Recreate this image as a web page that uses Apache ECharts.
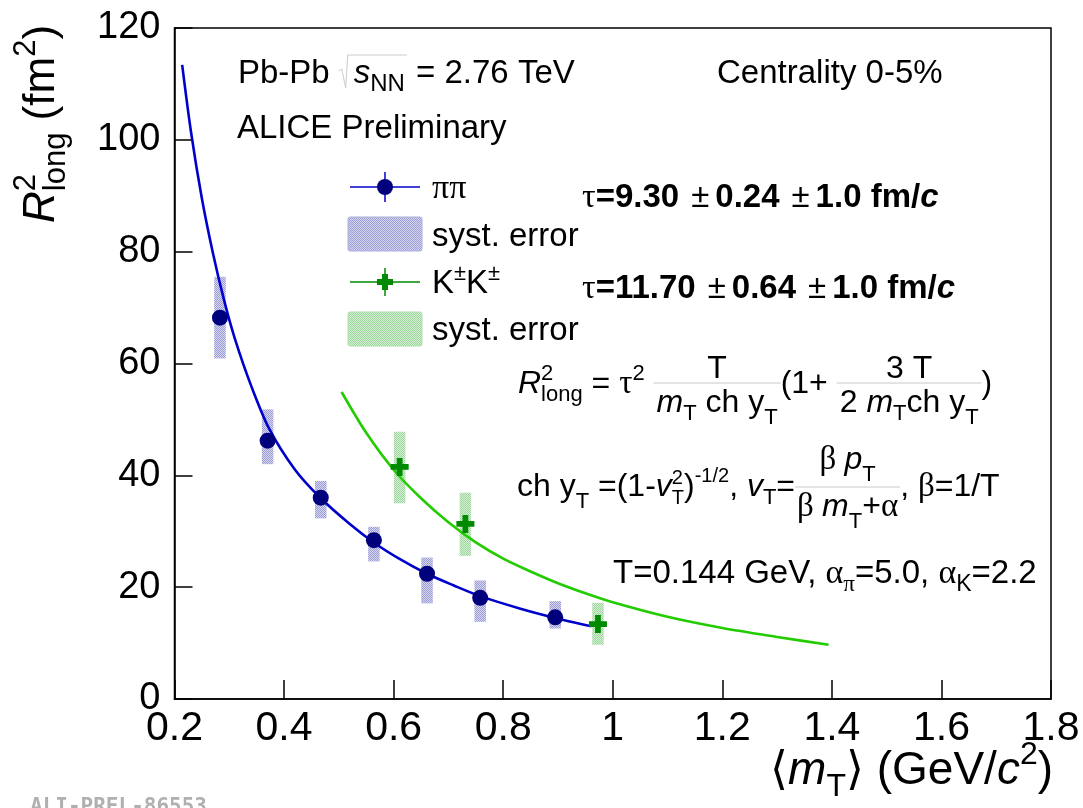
<!DOCTYPE html>
<html>
<head>
<meta charset="utf-8">
<script src="https://cdn.jsdelivr.net/npm/echarts@6/dist/echarts.min.js"></script>
<style>
  html, body { margin: 0; padding: 0; background: #ffffff; }
  #chart { width: 1083px; height: 808px; }
</style>
</head>
<body>
<div id="chart"></div>
<script>
// ---- data: longitudinal HBT radius squared vs <mT>, Pb-Pb 0-5% ----
const pionMt        = [0.283, 0.370, 0.467, 0.564, 0.661, 0.758, 0.895];
const pionR2        = [68.2, 46.2, 36.0, 28.4, 22.4, 18.1, 14.6];
const pionSystLow   = [60.9, 42.0, 32.3, 24.6, 17.1, 13.8, 12.6];
const pionSystHigh  = [75.5, 51.8, 39.0, 30.8, 25.3, 21.2, 17.5];

const kaonMt        = [0.611, 0.731, 0.973];
const kaonR2        = [41.5, 31.3, 13.4];
const kaonSystLow   = [35.0, 25.6, 9.7];
const kaonSystHigh  = [47.8, 36.9, 17.2];

// hydro-inspired fit curves (pions: tau = 9.30 fm/c, kaons: tau = 11.70 fm/c)
const pionFitMt = [0.214, 0.23, 0.25, 0.27, 0.29, 0.31, 0.34, 0.373, 0.42, 0.467, 0.52, 0.565, 0.61, 0.661, 0.71, 0.758, 0.83, 0.895, 0.961];
const pionFitR2 = [113.4, 101.5, 89.5, 79.8, 71.5, 64.5, 56.0, 48.3, 41.0, 35.9, 31.3, 27.9, 25.1, 22.4, 20.3, 18.4, 16.2, 14.5, 13.0];
const kaonFitMt = [0.505, 0.55, 0.6, 0.65, 0.7, 0.75, 0.8, 0.85, 0.9, 0.95, 1.0, 1.1, 1.2, 1.3, 1.394];
const kaonFitR2 = [54.9, 47.6, 41.0, 35.9, 31.6, 28.0, 25.1, 22.8, 20.7, 18.9, 17.3, 14.7, 12.7, 11.1, 9.7];

// axis ticks
const xTicks      = [0.2, 0.4, 0.6, 0.8, 1.0, 1.2, 1.4, 1.6, 1.8];
const xTickLabels = ['0.2', '0.4', '0.6', '0.8', '1', '1.2', '1.4', '1.6', '1.8'];
const yTicks      = [0, 20, 40, 60, 80, 100, 120];
const yTickLabels = ['0', '20', '40', '60', '80', '100', '120'];

// ---- styling ----
const SANS  = '"Liberation Sans", Arial, Helvetica, sans-serif';
const SERIF = '"Liberation Serif", "Times New Roman", serif';
const PION_MARK = '#00007c';
const PION_LINE = '#0000cc';
const KAON_MARK = '#008a00';
const KAON_LINE = '#22cc00';
const BOX_HALF = 0.0105;   // half width of systematic boxes in GeV/c^2

// checkered fill for systematic-uncertainty boxes
function checker(c1, c2) {
  const cv = document.createElement('canvas');
  cv.width = 2; cv.height = 2;
  const g = cv.getContext('2d');
  g.fillStyle = c2; g.fillRect(0, 0, 2, 2);
  g.fillStyle = c1; g.fillRect(0, 0, 1, 1); g.fillRect(1, 1, 1, 1);
  return { type: 'pattern', image: cv, repeat: 'repeat' };
}
const PION_BOX = checker('#9d9dd6', '#d6d6f0');
const KAON_BOX = checker('#9dd69d', '#d6f0d6');

// ---- text layout helpers (sub/superscripts, fractions) ----
const mctx = document.createElement('canvas').getContext('2d');
function fontStr(p) {
  return (p.it ? 'italic ' : 'normal ') + (p.b ? 'bold ' : 'normal ') + p.s + 'px ' + (p.f === 'serif' ? SERIF : SANS);
}
function textW(p) { mctx.font = fontStr(p); return mctx.measureText(p.t).width; }
const MID_OFF = (() => {
  mctx.font = 'normal normal 100px ' + SANS;
  mctx.textBaseline = 'middle';
  const m = mctx.measureText('H');
  mctx.textBaseline = 'alphabetic';
  return m.actualBoundingBoxDescent / 100;
})();
function T(t, s, o) { return Object.assign({ t: t, s: s }, o || {}); }
function F(num, den, o) { return Object.assign({ frac: true, num: num, den: den }, o || {}); }

function runWidth(pieces) {
  let w = 0, i = 0;
  while (i < pieces.length) {
    const p = pieces[i];
    if (p.frac) { w += Math.max(runWidth(p.num), runWidth(p.den)) + (p.pad || 4); i++; continue; }
    if (p.stack) { w += (p.gap || 0) + Math.max(textW(p), textW(pieces[i + 1])); i += 2; continue; }
    w += (p.gap || 0) + textW(p); i++;
  }
  return w;
}
function textEl(p, x, base) {
  return {
    type: 'text', x: x, y: base + (p.dy || 0) - MID_OFF * p.s, silent: true,
    style: {
      text: p.t, fill: p.c || '#000', fontSize: p.s,
      fontFamily: p.f === 'serif' ? SERIF : SANS,
      fontStyle: p.it ? 'italic' : 'normal', fontWeight: p.b ? 'bold' : 'normal',
      align: 'left', verticalAlign: 'middle'
    }
  };
}
function drawRun(x0, base, pieces, out) {
  let x = x0, i = 0;
  while (i < pieces.length) {
    const p = pieces[i];
    if (p.frac) {
      const wn = runWidth(p.num), wd = runWidth(p.den);
      const w = Math.max(wn, wd) + (p.pad || 4);
      drawRun(x + (w - wn) / 2, base + p.numDy, p.num, out);
      drawRun(x + (w - wd) / 2, base + p.denDy, p.den, out);
      out.push({
        type: 'line', silent: true,
        shape: { x1: x, y1: base + p.lineDy, x2: x + w, y2: base + p.lineDy },
        style: { stroke: '#c8c8c8', lineWidth: 1 }
      });
      x += w; i++; continue;
    }
    if (p.stack) {
      const q = pieces[i + 1];
      x += p.gap || 0;
      out.push(textEl(p, x, base)); out.push(textEl(q, x, base));
      x += Math.max(textW(p), textW(q)); i += 2; continue;
    }
    x += p.gap || 0;
    out.push(textEl(p, x, base));
    x += textW(p); i++;
  }
  return x;
}

// ---- annotation graphics ----
const G = [];
const FS = 33;   // body text
const FM = 32;   // formula text

// collision system / energy
let xe = drawRun(238, 83, [T('Pb-Pb', FS)], G);
const radX = xe + 14;
xe = drawRun(radX + 10, 83, [T('s', FS, { it: 1 }), T('NN', 24, { dy: 8 })], G);
G.push({
  type: 'polyline', silent: true,
  shape: { points: [[radX - 5, 71], [radX - 2, 69], [radX + 2, 88], [radX + 4, 55], [xe + 2, 55]] },
  style: { stroke: '#cccccc', lineWidth: 1, fill: null }
});
drawRun(xe + 2, 83, [T(' = 2.76 TeV', FS)], G);
drawRun(717, 83, [T('Centrality 0-5%', FS)], G);
drawRun(237, 138, [T('ALICE Preliminary', FS)], G);

// legend
const LX0 = 350, LX1 = 420, LMID = 385, LTX = 432;
G.push({ type: 'line', silent: true, shape: { x1: LX0, y1: 187, x2: LX1, y2: 187 }, style: { stroke: PION_LINE, lineWidth: 1.5 } });
G.push({ type: 'line', silent: true, shape: { x1: LMID, y1: 172, x2: LMID, y2: 202 }, style: { stroke: PION_LINE, lineWidth: 1.5 } });
G.push({ type: 'circle', silent: true, shape: { cx: LMID, cy: 187, r: 8 }, style: { fill: PION_MARK } });
drawRun(LTX, 198, [T('ππ', 34, { f: 'serif' })], G);
G.push({ type: 'rect', silent: true, shape: { x: 348, y: 217, width: 74, height: 34, r: 2 }, style: { fill: PION_BOX, stroke: '#b0b0dd', lineWidth: 1 } });
drawRun(LTX, 246, [T('syst. error', FS)], G);
G.push({ type: 'line', silent: true, shape: { x1: LX0, y1: 282, x2: LX1, y2: 282 }, style: { stroke: KAON_MARK, lineWidth: 1.5 } });
G.push({ type: 'line', silent: true, shape: { x1: LMID, y1: 268, x2: LMID, y2: 296 }, style: { stroke: KAON_MARK, lineWidth: 1.5 } });
G.push({ type: 'rect', silent: true, shape: { x: LMID - 8, y: 279, width: 16, height: 6 }, style: { fill: KAON_MARK } });
G.push({ type: 'rect', silent: true, shape: { x: LMID - 3, y: 274, width: 6, height: 16 }, style: { fill: KAON_MARK } });
drawRun(LTX, 293, [T('K', FS), T('±', 22, { dy: -13 }), T('K', FS), T('±', 22, { dy: -13 })], G);
G.push({ type: 'rect', silent: true, shape: { x: 348, y: 312, width: 74, height: 34, r: 2 }, style: { fill: KAON_BOX, stroke: '#b0ddb0', lineWidth: 1 } });
drawRun(LTX, 340, [T('syst. error', FS)], G);

// fitted emission durations
function tauLine(y, val, stat) {
  drawRun(582, y, [
    T('τ', 34, { f: 'serif' }), T('=' + val, FS, { b: 1 }),
    T('±', FS, { gap: 12 }), T(stat, FS, { b: 1, gap: 6 }),
    T('±', FS, { gap: 12 }), T('1.0 fm/', FS, { b: 1, gap: 6 }), T('c', FS, { b: 1, it: 1 })
  ], G);
}
tauLine(207, '9.30', '0.24');
tauLine(298, '11.70', '0.64');

// model formula
const fr1 = { numDy: -15, denDy: 19, lineDy: -10, pad: 6 };
drawRun(518, 393, [
  T('R', FM, { it: 1 }), T('2', 22, { dy: -13, stack: true }), T('long', 22, { dy: 8 }),
  T(' = ', FM), T('τ', 33, { f: 'serif' }), T('2', 22, { dy: -13 }), T(' ', FM),
  F([T('T', FM)], [T('m', FM, { it: 1 }), T('T', 22, { dy: 8 }), T(' ch y', FM), T('T', 22, { dy: 12 })], fr1),
  T('(1+ ', FM),
  F([T('3 T', FM)], [T('2 ', FM), T('m', FM, { it: 1 }), T('T', 22, { dy: 8 }), T('ch y', FM), T('T', 22, { dy: 12 })], fr1),
  T(')', FM)
], G);
const fr2 = { numDy: -27, denDy: 20, lineDy: -9, pad: 4 };
drawRun(517, 496, [
  T('ch y', FM), T('T', 22, { dy: 12 }), T(' =(1-', FM), T('v', FM, { it: 1 }),
  T('2', 20, { dy: -12, stack: true }), T('T', 20, { dy: 8 }), T(')', FM), T('-1/2', 20, { dy: -14 }),
  T(', ', FM), T('v', FM, { it: 1 }), T('T', 22, { dy: 8 }), T('=', FM),
  F([T('β ', 33, { f: 'serif' }), T('p', FM, { it: 1 }), T('T', 22, { dy: 12 })],
    [T('β ', 33, { f: 'serif' }), T('m', FM, { it: 1 }), T('T', 22, { dy: 12 }), T('+', FM), T('α', 33, { f: 'serif' })], fr2),
  T(', ', FM), T('β', 33, { f: 'serif' }), T('=1/T', FM)
], G);
drawRun(613, 583, [
  T('T=0.144 GeV, ', FS), T('α', 34, { f: 'serif' }), T('π', 23, { f: 'serif', dy: 8 }),
  T('=5.0, ', FS), T('α', 34, { f: 'serif' }), T('K', 23, { dy: 8 }), T('=2.2', FS)
], G);

// axis titles
const yTitle = [];
drawRun(0, 0, [
  T('R', 44, { it: 1 }), T('2', 31, { dy: -19, stack: true }), T('long', 31, { dy: 11 }),
  T(' (fm', 44), T('2', 31, { dy: -19 }), T(')', 44)
], yTitle);
G.push({ type: 'group', x: 54, y: 223, rotation: Math.PI / 2, children: yTitle });

const xTitlePieces = [
  T('⟨', 46), T('m', 46, { it: 1 }), T('T', 32, { dy: 12 }), T('⟩', 46),
  T(' (GeV/', 46), T('c', 46, { it: 1 }), T('2', 32, { dy: -20 }), T(')', 46)
];
drawRun(1053 - runWidth(xTitlePieces), 784, xTitlePieces, G);

// preliminary figure tag
G.push({
  type: 'text', x: 30, y: 797, silent: true,
  style: { text: 'ALI-PREL-86553', fill: '#b0b0b0', fontSize: 21, fontWeight: 'bold', fontFamily: '"DejaVu Sans Mono", monospace', align: 'left', verticalAlign: 'top' }
});

// ---- series data ----
const pionPoints = pionMt.map((x, i) => [x, pionR2[i]]);
const kaonPoints = kaonMt.map((x, i) => [x, kaonR2[i]]);
const pionBoxes  = pionMt.map((x, i) => [x, pionSystLow[i], pionSystHigh[i]]);
const kaonBoxes  = kaonMt.map((x, i) => [x, kaonSystLow[i], kaonSystHigh[i]]);
const pionFit    = pionFitMt.map((x, i) => [x, pionFitR2[i]]);
const kaonFit    = kaonFitMt.map((x, i) => [x, kaonFitR2[i]]);

function boxRenderer(fill) {
  return function (params, api) {
    const x = api.value(0), lo = api.value(1), hi = api.value(2);
    const a = api.coord([x - BOX_HALF, hi]);
    const b = api.coord([x + BOX_HALF, lo]);
    return { type: 'rect', shape: { x: a[0], y: a[1], width: b[0] - a[0], height: b[1] - a[1] }, style: { fill: fill } };
  };
}
function tickLabel(ticks, labels) {
  return v => { const k = ticks.findIndex(t => Math.abs(t - v) < 1e-6); return k < 0 ? '' : labels[k]; };
}

const PLUS = 'path://M34,0 H66 V34 H100 V66 H66 V100 H34 V66 H0 V34 H34 Z';

const chart = echarts.init(document.getElementById('chart'), null, { renderer: 'canvas' });
chart.setOption({
  animation: false,
  backgroundColor: '#ffffff',
  grid: {
    left: 174.5, right: 32, top: 28, bottom: 109,
    containLabel: false, outerBoundsMode: 'none',
    show: true, borderColor: '#000', borderWidth: 1.5, backgroundColor: 'transparent'
  },
  xAxis: {
    type: 'value', min: 0.2, max: 1.8, interval: 0.2,
    axisLine: { show: true, onZero: false, lineStyle: { color: '#000', width: 1.5 } },
    axisTick: { show: true, inside: true, length: 19, lineStyle: { color: '#000', width: 1.5 } },
    splitLine: { show: false },
    axisLabel: { show: true, margin: 9, fontSize: 41, color: '#000', fontFamily: SANS, formatter: tickLabel(xTicks, xTickLabels), showMinLabel: true, showMaxLabel: true }
  },
  yAxis: {
    type: 'value', min: 0, max: 120, interval: 20,
    axisLine: { show: true, onZero: false, lineStyle: { color: '#000', width: 1.5 } },
    axisTick: { show: true, inside: true, length: 18, lineStyle: { color: '#000', width: 1.5 } },
    splitLine: { show: false },
    axisLabel: { show: true, margin: 14, fontSize: 38, color: '#000', fontFamily: SANS, formatter: tickLabel(yTicks, yTickLabels), showMinLabel: true, showMaxLabel: true }
  },
  series: [
    { name: 'ππ syst', type: 'custom', renderItem: boxRenderer(PION_BOX), data: pionBoxes, z: 1, silent: true },
    { name: 'KK syst', type: 'custom', renderItem: boxRenderer(KAON_BOX), data: kaonBoxes, z: 1, silent: true },
    { name: 'ππ fit', type: 'line', data: pionFit, smooth: 0.3, showSymbol: false, z: 2, silent: true, lineStyle: { color: PION_LINE, width: 2.6 } },
    { name: 'KK fit', type: 'line', data: kaonFit, smooth: 0.3, showSymbol: false, z: 2, silent: true, lineStyle: { color: KAON_LINE, width: 2.6 } },
    { name: 'ππ', type: 'scatter', data: pionPoints, symbol: 'circle', symbolSize: 16, z: 3, itemStyle: { color: PION_MARK, opacity: 1 } },
    { name: 'K±K±', type: 'scatter', data: kaonPoints, symbol: PLUS, symbolSize: 18, z: 3, itemStyle: { color: KAON_MARK, opacity: 1 } }
  ],
  graphic: { elements: G }
});
</script>
</body>
</html>
